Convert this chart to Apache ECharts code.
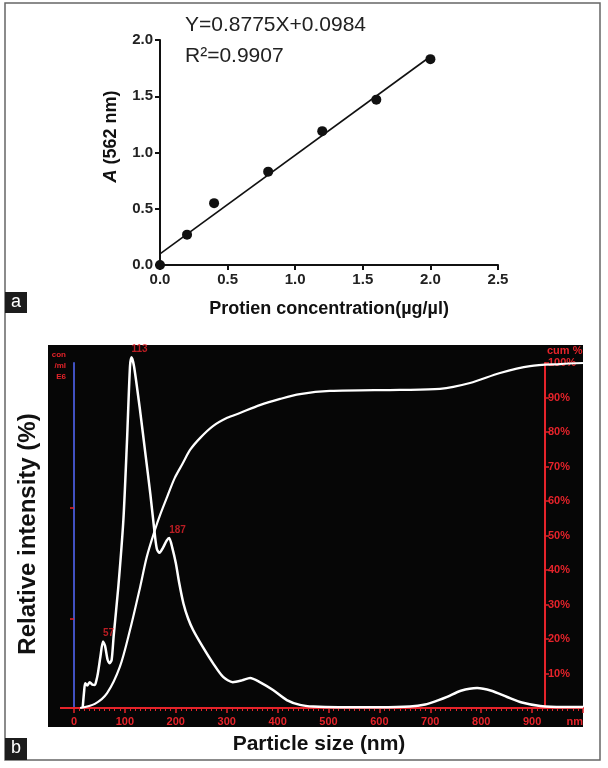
<!DOCTYPE html>
<html><head><meta charset="utf-8">
<script src="https://cdn.jsdelivr.net/npm/echarts@6/dist/echarts.min.js"></script>
<style>html,body{margin:0;padding:0;background:#fff}#c{width:608px;height:768px}</style>
</head><body><div id="c"></div>
<script>
// ---------- Panel a: standard curve ----------
const concX = [0, 0.2, 0.4, 0.8, 1.2, 1.6, 2.0];
const absorbY = [0, 0.27, 0.55, 0.83, 1.19, 1.47, 1.83];
const fitX = [0, 2.0];
const fitY = [0.0984, 1.8534];
const eqText = 'Y=0.8775X+0.0984';
const r2Text = 'R\u00b2=0.9907';

// ---------- Panel b: particle size distribution ----------
const intensityNm = [17, 20, 22, 26, 31, 36, 41, 44, 47, 52, 57, 61, 66, 70, 74, 78, 87, 97, 104, 110, 113, 118, 130, 140, 150, 159, 163, 168, 175, 182, 187, 193, 200, 207, 215, 224, 234, 253, 273, 293, 312, 330, 346, 365, 391, 418, 444, 470, 520, 600, 660, 690, 715, 733, 760, 792, 820, 851, 880, 916, 960, 1000];
const intensityVal = [0, 5, 7.2, 6.5, 7.5, 6.8, 6.7, 8, 10.1, 15, 19.3, 18, 14, 13, 14, 21, 35, 54.5, 77, 99, 101.7, 99, 86, 74, 62, 50, 46, 45, 46.5, 48.5, 49.3, 46.5, 42, 36, 30.3, 26, 22.6, 17.7, 13, 9, 7.5, 8, 8.7, 7.5, 5.2, 2.3, 0.9, 0.4, 0.2, 0.2, 0.4, 1, 2.2, 3.2, 5, 5.8, 5, 3.2, 1.6, 0.6, 0.3, 0.3];
const cumNm = [12, 41, 65, 90, 110, 130, 143, 159, 169, 183, 198, 214, 228, 248, 273, 301, 326, 365, 405, 444, 503, 640, 719, 778, 837, 896, 955, 1000];
const cumVal = [0, 1.2, 4.3, 11.9, 22.6, 35.1, 43.8, 51.6, 55.9, 61.2, 66.7, 71, 74.8, 78.3, 81.7, 84.1, 85.5, 87.8, 89.6, 91, 91.9, 92.2, 92.5, 94.2, 97.1, 99.1, 99.7, 100];
const peakNm = [113, 187, 57];
const peakVal = [101.7, 49.3, 19.3];
const leftTickVals = [26, 58];
const leftUnit = 'con\n/ml\nE6';

const RED = '#e5232a';
const FONT = 'Liberation Sans';

const chart = echarts.init(document.getElementById('c'));
const option = {
  backgroundColor: '#fff',
  animation: false,
  grid: [
    {left: 160, top: 40, width: 338, height: 225},
    {left: 74, top: 363, width: 509, height: 345}
  ],
  xAxis: [
    {
      gridIndex: 0, type: 'value', min: 0, max: 2.5, interval: 0.5,
      name: 'Protien concentration(\u00b5g/\u00b5l)', nameLocation: 'middle', nameGap: 35,
      nameTextStyle: {fontFamily: FONT, fontWeight: 'bold', fontSize: 18, color: '#111'},
      axisLine: {onZero: false, lineStyle: {color: '#111', width: 2}},
      axisTick: {length: 5, lineStyle: {color: '#111', width: 2}},
      axisLabel: {formatter: v => v.toFixed(1), fontFamily: FONT, fontWeight: 'bold', fontSize: 15, color: '#222', margin: 7},
      splitLine: {show: false}
    },
    {
      gridIndex: 1, type: 'value', min: 0, max: 1000, interval: 100,
      axisLine: {onZero: false, lineStyle: {color: RED, width: 2}},
      axisTick: {length: 5, lineStyle: {color: RED, width: 1.5}},
      minorTick: {show: true, splitNumber: 10, length: 3, lineStyle: {color: RED, width: 1}},
      axisLabel: {formatter: v => v === 1000 ? 'nm' : String(v), alignMaxLabel: 'right', fontFamily: FONT, fontWeight: 'bold', fontSize: 11, color: RED, margin: 8},
      splitLine: {show: false}, minorSplitLine: {show: false}
    }
  ],
  yAxis: [
    {
      gridIndex: 0, type: 'value', min: 0, max: 2.0, interval: 0.5,
      name: '{i|A} (562 nm)', nameLocation: 'middle', nameGap: 40, nameRotate: 90,
      nameTextStyle: {fontFamily: FONT, fontWeight: 'bold', fontSize: 18, color: '#111', padding: [0, 0, 0, 32],
        rich: {i: {fontFamily: FONT, fontWeight: 'bold', fontStyle: 'italic', fontSize: 18, color: '#111'}}},
      axisLine: {show: true, onZero: false, lineStyle: {color: '#111', width: 2}},
      axisTick: {show: true, length: 5, lineStyle: {color: '#111', width: 2}},
      axisLabel: {formatter: v => v.toFixed(1), fontFamily: FONT, fontWeight: 'bold', fontSize: 15, color: '#222', margin: 7},
      splitLine: {show: false}
    },
    {
      gridIndex: 1, type: 'value', min: 0, max: 100, position: 'left',
      axisLine: {show: true, onZero: false, lineStyle: {color: '#4050c0', width: 2}},
      axisTick: {show: true, customValues: leftTickVals, length: 4, lineStyle: {color: RED, width: 1.5}},
      axisLabel: {show: false},
      splitLine: {show: false}
    },
    {
      gridIndex: 1, type: 'value', min: 0, max: 100, interval: 10, position: 'right', offset: -38,
      name: 'cum %', nameLocation: 'end', nameGap: 7,
      nameTextStyle: {align: 'left', fontFamily: FONT, fontWeight: 'bold', fontSize: 11, color: RED, padding: [0, 0, 0, 2]},
      axisLine: {show: true, onZero: false, lineStyle: {color: RED, width: 2}},
      axisTick: {show: true, length: 4, lineStyle: {color: RED, width: 1.5}},
      axisLabel: {formatter: v => v === 0 ? '' : v + '%', fontFamily: FONT, fontWeight: 'bold', fontSize: 11, color: RED, margin: 3},
      splitLine: {show: false}
    }
  ],
  series: [
    {
      type: 'line', xAxisIndex: 0, yAxisIndex: 0, showSymbol: false, silent: true,
      data: fitX.map((x, i) => [x, fitY[i]]),
      lineStyle: {color: '#111', width: 1.6}, z: 3
    },
    {
      type: 'scatter', xAxisIndex: 0, yAxisIndex: 0, clip: false, symbolSize: 10,
      data: concX.map((x, i) => [x, absorbY[i]]),
      itemStyle: {color: '#111', opacity: 1}, z: 4
    },
    {
      type: 'line', xAxisIndex: 1, yAxisIndex: 1, showSymbol: false, clip: false, smooth: 0.25,
      data: intensityNm.map((x, i) => [x, intensityVal[i]]),
      lineStyle: {color: '#fff', width: 2.5}, z: 3
    },
    {
      type: 'line', xAxisIndex: 1, yAxisIndex: 2, showSymbol: false, clip: false, smooth: 0.3,
      data: cumNm.map((x, i) => [x, cumVal[i]]),
      lineStyle: {color: '#fff', width: 2.2}, z: 3
    },
    {
      type: 'scatter', xAxisIndex: 1, yAxisIndex: 1, clip: false, symbolSize: 0, silent: true,
      data: peakNm.map((x, i) => [x, peakVal[i]]),
      label: {show: true, position: 'top', align: 'left', distance: 3, offset: [0, 0],
        formatter: p => String(p.value[0]), fontFamily: FONT, fontWeight: 'bold', fontSize: 10, color: RED},
      z: 5
    }
  ],
  graphic: {elements: [
    {type: 'rect', z: -1, shape: {x: 48, y: 345, width: 535, height: 382}, style: {fill: '#060606'}},
    {type: 'line', z: 1, shape: {x1: 60, y1: 708, x2: 74, y2: 708}, style: {stroke: RED, lineWidth: 2}},
    {type: 'rect', z: 10, shape: {x: 5, y: 3, width: 595, height: 757}, style: {fill: 'none', stroke: '#666', lineWidth: 1.5}},
    {type: 'rect', z: 10, shape: {x: 5, y: 292, width: 22, height: 21}, style: {fill: '#1c1c1c'}},
    {type: 'text', z: 11, x: 16, y: 302, style: {text: 'a', fill: '#fff', fontFamily: FONT, fontSize: 18, align: 'center', verticalAlign: 'middle'}},
    {type: 'rect', z: 10, shape: {x: 5, y: 738, width: 22, height: 22}, style: {fill: '#1c1c1c'}},
    {type: 'text', z: 11, x: 16, y: 748, style: {text: 'b', fill: '#fff', fontFamily: FONT, fontSize: 18, align: 'center', verticalAlign: 'middle'}},
    {type: 'text', z: 5, x: 185, y: 25, style: {text: eqText, fill: '#222', fontFamily: FONT, fontSize: 21, align: 'left', verticalAlign: 'middle'}},
    {type: 'text', z: 5, x: 185, y: 56, style: {text: r2Text, fill: '#222', fontFamily: FONT, fontSize: 21, align: 'left', verticalAlign: 'middle'}},
    {type: 'text', z: 5, x: 66, y: 349, style: {text: leftUnit, fill: RED, fontFamily: FONT, fontWeight: 'bold', fontSize: 8, lineHeight: 11, align: 'right', verticalAlign: 'top'}},
    {type: 'text', z: 5, x: 28, y: 534, rotation: Math.PI / 2, style: {text: 'Relative intensity (%)', fill: '#111', fontFamily: FONT, fontWeight: 'bold', fontSize: 24, align: 'center', verticalAlign: 'middle'}},
    {type: 'text', z: 5, x: 319, y: 744, style: {text: 'Particle size (nm)', fill: '#111', fontFamily: FONT, fontWeight: 'bold', fontSize: 21, align: 'center', verticalAlign: 'middle'}}
  ]}
};
chart.setOption(option);
</script>
</body></html>
